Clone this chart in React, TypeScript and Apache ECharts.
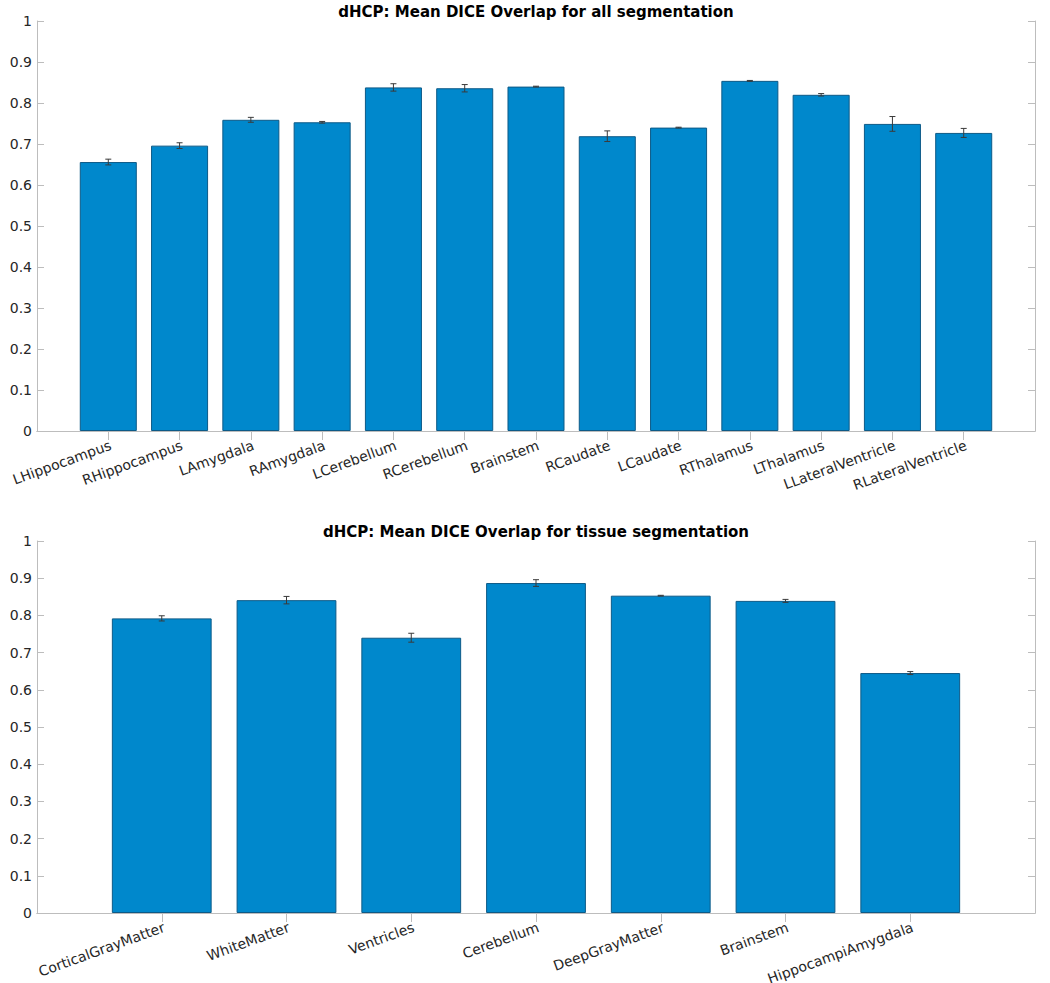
import React, { useEffect, useRef } from "react";
import * as echarts from "echarts";

const topTitle = "dHCP: Mean DICE Overlap for all segmentation";
const topCategories = [
  "LHippocampus", "RHippocampus", "LAmygdala", "RAmygdala", "LCerebellum", "RCerebellum",
  "Brainstem", "RCaudate", "LCaudate", "RThalamus", "LThalamus", "LLateralVentricle", "RLateralVentricle",
];
const topMeans = [0.656, 0.696, 0.759, 0.753, 0.838, 0.836, 0.840, 0.719, 0.740, 0.854, 0.820, 0.749, 0.727];
const topErrs = [0.007, 0.007, 0.006, 0.002, 0.009, 0.009, 0.001, 0.013, 0.001, 0.001, 0.003, 0.018, 0.011];

const bottomTitle = "dHCP: Mean DICE Overlap for tissue segmentation";
const bottomCategories = [
  "CorticalGrayMatter", "WhiteMatter", "Ventricles", "Cerebellum", "DeepGrayMatter", "Brainstem", "HippocampiAmygdala",
];
const bottomMeans = [0.792, 0.841, 0.740, 0.887, 0.853, 0.839, 0.645];
const bottomErrs = [0.007, 0.010, 0.012, 0.009, 0.001, 0.004, 0.004];

const yMin = 0;
const yMax = 1;
const yStep = 0.1;

const AXIS_GRAY = "#bdbdbd";
const TEXT = "#262626";
const BAR = "#0088cc";
const FONT = "DejaVu Sans";

function padded(cats: string[]) {
  return ["", ...cats, ""];
}

function xAxes(cats: string[], gridIndex: number) {
  const data = padded(cats);
  const n = data.length - 1;
  const tickInterval = (i: number) => i > 0 && i < n;
  return [
    {
      type: "category",
      gridIndex,
      position: "bottom",
      data,
      boundaryGap: false,
      axisLine: { show: true, lineStyle: { color: AXIS_GRAY, width: 1 } },
      axisTick: { show: false },
      axisLabel: {
        show: true,
        interval: 0,
        rotate: 20,
        margin: 7,
        align: "right",
        verticalAlign: "top",
        color: TEXT,
        fontSize: 14,
        fontFamily: FONT,
      },
      splitLine: { show: false },
    },
    {
      type: "category",
      gridIndex,
      position: "top",
      data,
      boundaryGap: false,
      axisLine: { show: true, lineStyle: { color: AXIS_GRAY, width: 1 } },
      axisTick: { show: true, inside: true, length: 9, interval: tickInterval, lineStyle: { color: AXIS_GRAY } },
      axisLabel: { show: false },
      splitLine: { show: false },
    },
  ];
}

function yAxes(gridIndex: number) {
  const base = {
    type: "value",
    gridIndex,
    min: yMin,
    max: yMax,
    interval: yStep,
    splitLine: { show: false },
    axisLine: { show: true, lineStyle: { color: AXIS_GRAY, width: 1 } },
    axisTick: { show: true, inside: true, length: 7, lineStyle: { color: AXIS_GRAY } },
  };
  return [
    {
      ...base,
      position: "left",
      axisLabel: {
        show: true,
        color: TEXT,
        fontSize: 14,
        fontFamily: FONT,
        margin: 5,
        formatter: (v: number) => (v === 0 || v === 1 ? String(v) : v.toFixed(1)),
      },
    },
    { ...base, position: "right", axisLabel: { show: false } },
  ];
}

function barSeries(means: number[], axisIdx: number) {
  return {
    type: "bar",
    xAxisIndex: axisIdx,
    yAxisIndex: axisIdx,
    barWidth: "80%",
    data: means.map((m, i) => [i + 1, m]),
    itemStyle: { color: BAR, borderColor: "#0d5a87", borderWidth: 1 },
    z: 2,
  };
}

function errSeries(means: number[], errs: number[], axisIdx: number) {
  return {
    type: "custom",
    xAxisIndex: axisIdx,
    yAxisIndex: axisIdx,
    data: means.map((m, i) => [i + 1, m, errs[i]]),
    encode: { x: 0, y: 1 },
    z: 5,
    renderItem: (params: any, api: any) => {
      const x = api.value(0);
      const m = api.value(1);
      const e = api.value(2);
      const top = api.coord([x, m + e]);
      const bot = api.coord([x, m - e]);
      const hw = 3;
      const st = { stroke: "#3a3a3a", lineWidth: 1 };
      return {
        type: "group",
        children: [
          { type: "line", shape: { x1: top[0], y1: top[1], x2: bot[0], y2: bot[1] }, style: st },
          { type: "line", shape: { x1: top[0] - hw, y1: top[1], x2: top[0] + hw, y2: top[1] }, style: st },
          { type: "line", shape: { x1: bot[0] - hw, y1: bot[1], x2: bot[0] + hw, y2: bot[1] }, style: st },
        ],
      };
    },
  };
}

export default function App() {
  const ref = useRef<HTMLDivElement>(null);
  useEffect(() => {
    if (!ref.current) return;
    const chart = echarts.init(ref.current, null, { renderer: "svg" });
    const plotLeft = 37;
    const plotRight = 15;
    const centerX = plotLeft + (1050 - plotLeft - plotRight) / 2;
    const titleStyle = (text: string) => ({
      text,
      fill: "#000",
      font: `bold 15px "${FONT}"`,
      textAlign: "center",
      textVerticalAlign: "top",
    });
    chart.setOption({
      animation: false,
      backgroundColor: "#ffffff",
      graphic: [
        { type: "text", x: centerX, y: 4, style: titleStyle(topTitle) },
        { type: "text", x: centerX, y: 524, style: titleStyle(bottomTitle) },
      ],
      grid: [
        { left: plotLeft, right: plotRight, top: 21, height: 410, outerBoundsMode: "none", containLabel: false },
        { left: plotLeft, right: plotRight, top: 541, height: 372, outerBoundsMode: "none", containLabel: false },
      ],
      xAxis: [...xAxes(topCategories, 0), ...xAxes(bottomCategories, 1)],
      yAxis: [...yAxes(0), ...yAxes(1)],
      series: [
        barSeries(topMeans, 0),
        errSeries(topMeans, topErrs, 0),
        barSeries(bottomMeans, 2),
        errSeries(bottomMeans, bottomErrs, 2),
      ],
    });
    return () => chart.dispose();
  }, []);
  return (
    <div
      ref={ref}
      style={{ position: "absolute", left: 0, top: 0, width: 1050, height: 983 }}
    />
  );
}
